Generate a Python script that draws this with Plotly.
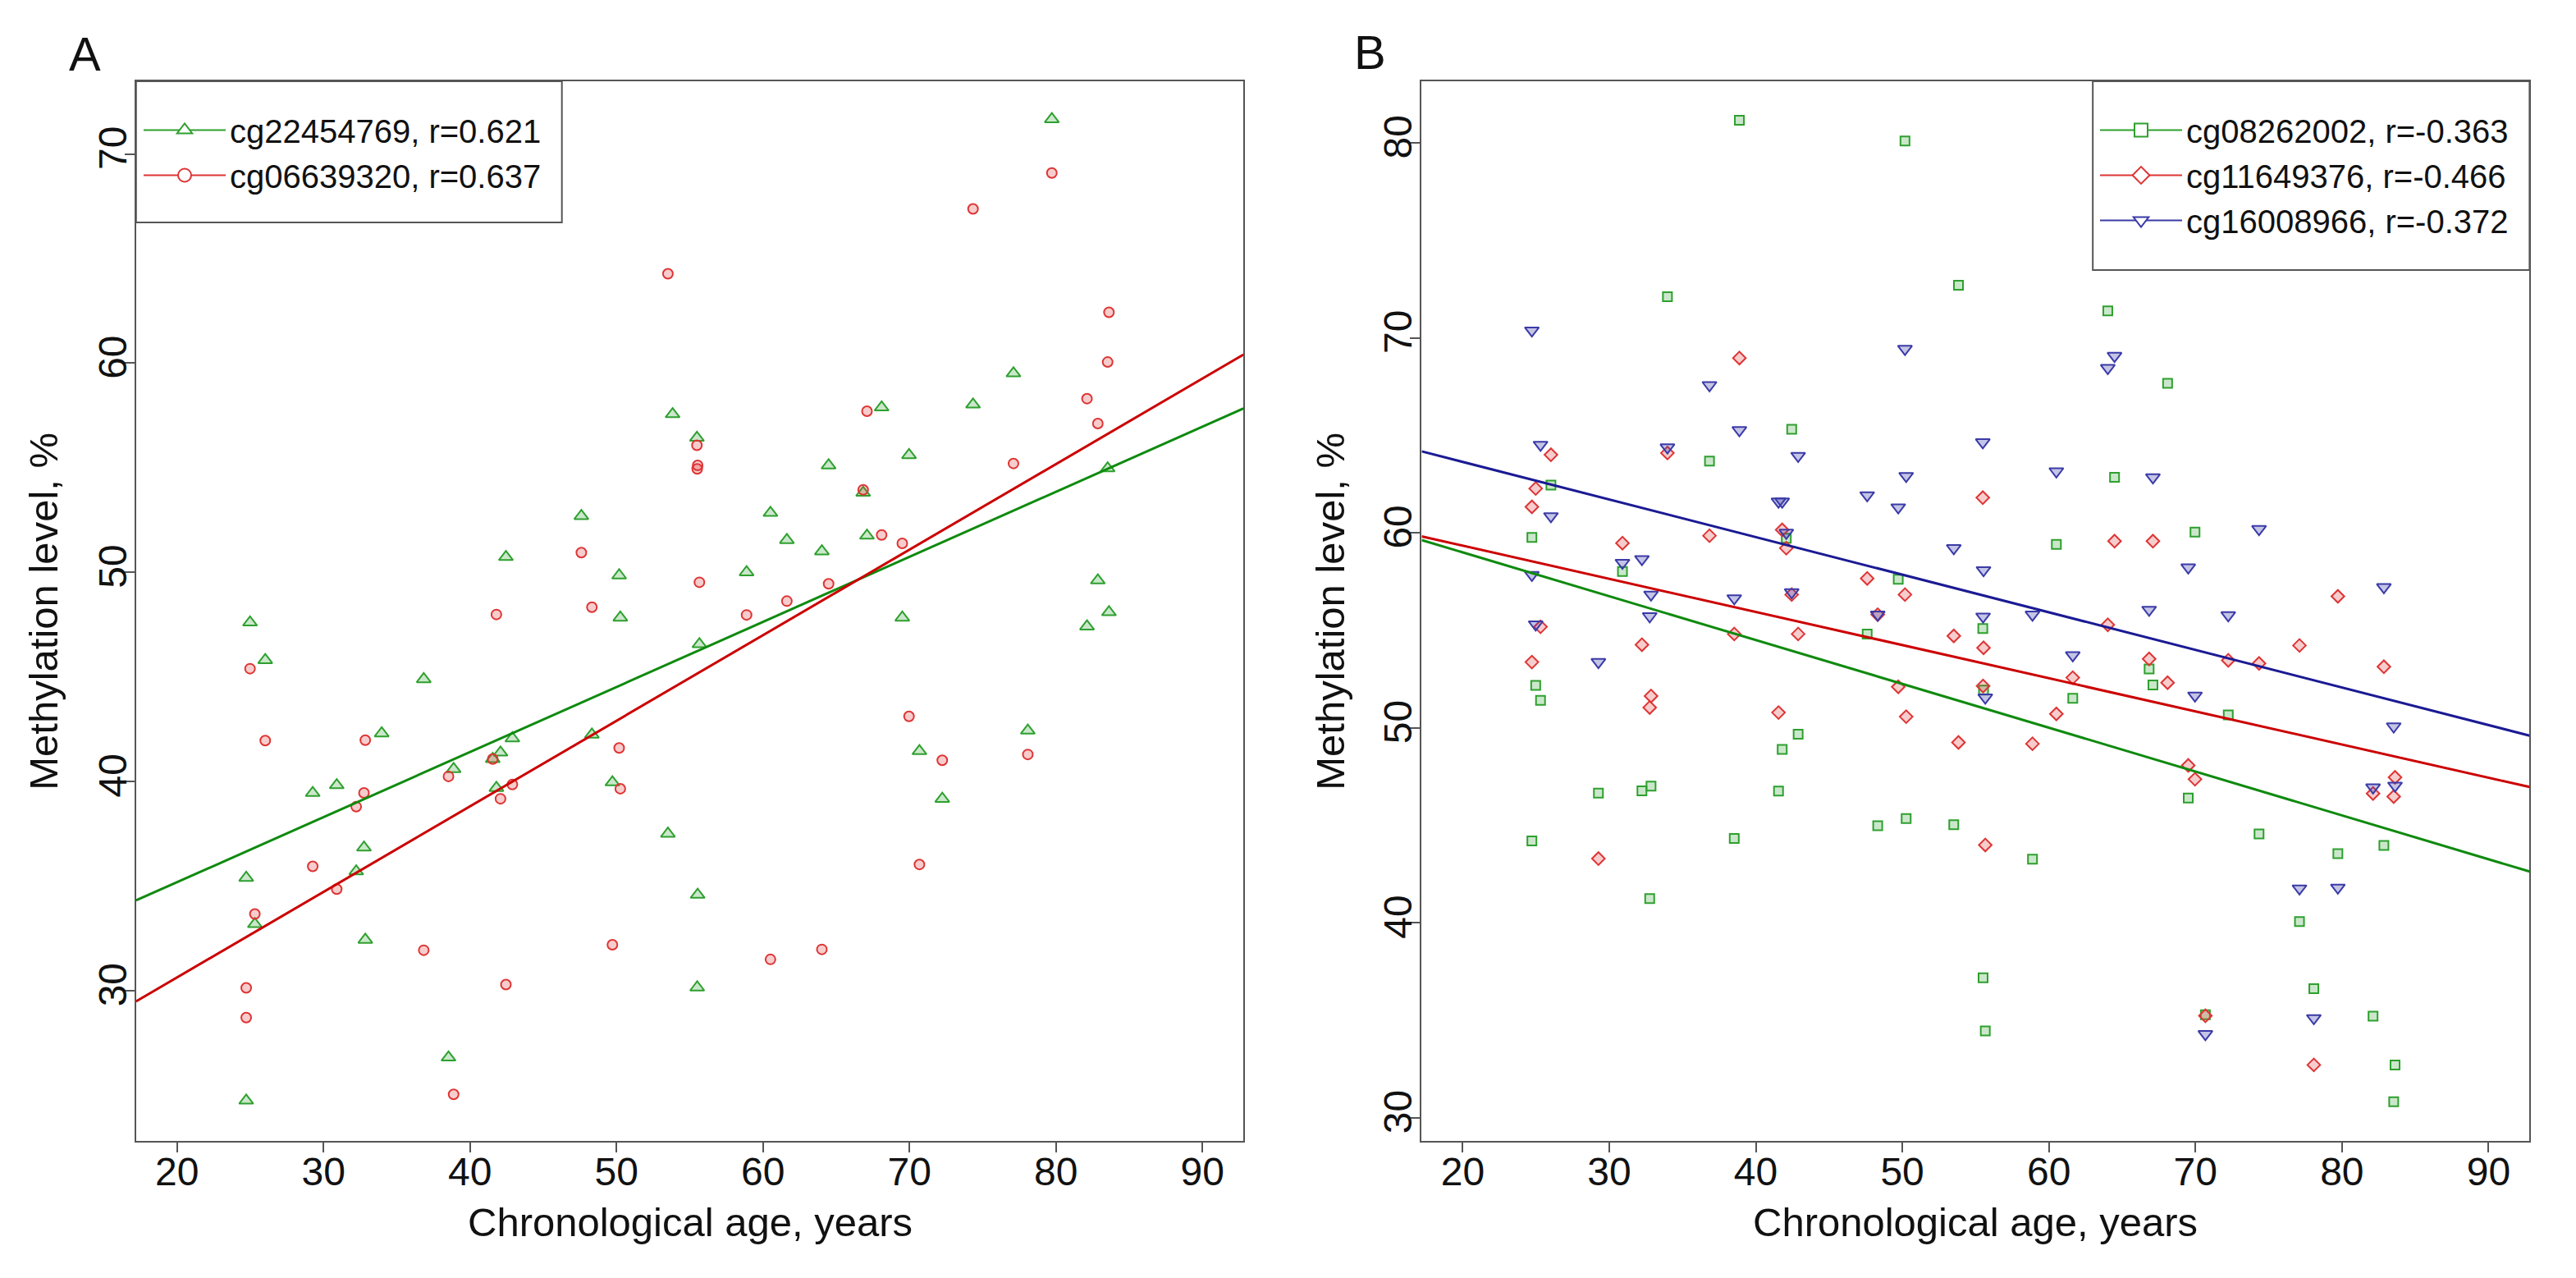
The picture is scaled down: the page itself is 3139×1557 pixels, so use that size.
import plotly.graph_objects as go

# Ages of the donors (years); every CpG site was measured on the same people.
ages = [24.72, 24.72, 24.98, 25.31, 26.02, 29.26, 30.90, 32.23, 32.76, 32.85,
        33.97, 36.84, 38.53, 38.88, 41.55, 41.80, 42.08, 42.45, 42.89, 47.60,
        48.32, 49.72, 50.18, 50.26, 53.51, 53.83, 55.49, 55.54, 55.51, 55.66,
        58.88, 60.51, 61.63, 64.02, 64.48, 66.84, 67.10, 68.10, 69.51, 69.97,
        70.68, 72.24, 74.34, 77.10, 78.08, 79.72, 82.12, 82.86, 83.53, 83.62]

# Panel A: methylation level (%) of sites that go up with age.
cg22454769 = [35.39, 24.74, 47.60, 33.18, 45.80, 39.45, 39.82, 35.70, 36.84, 32.43,
              42.30, 44.89, 26.80, 40.59, 41.07, 39.69, 41.38, 50.73, 42.06, 52.69,
              42.24, 39.96, 49.85, 47.83, 37.50, 57.56, 56.43, 34.58, 30.15, 46.56,
              50.00, 52.84, 51.54, 51.00, 55.11, 53.80, 51.75, 57.88, 47.83, 55.60,
              41.45, 39.17, 58.02, 59.51, 42.43, 71.66, 47.41, 49.61, 54.97, 48.09]
cg06639320 = [30.13, 28.71, 45.39, 33.66, 41.95, 35.94, 34.85, 38.79, 39.45, 41.97,
              None, 31.93, 40.24, 25.04, 41.07, 47.98, 39.17, 30.29, 39.85, 50.94,
              48.33, 32.19, 41.60, 39.65, 64.27, None, 56.07, 55.11, 54.94, 49.52,
              47.96, 31.49, 48.62, 31.97, 49.45, 53.94, 57.70, 51.78, 51.38, 43.11,
              36.03, 41.01, 67.37, 55.20, 41.29, 69.09, 58.30, 57.11, 60.05, 62.43]

# Panel B: methylation level (%) of sites that go down with age.
cg08262002 = [59.76, 44.20, 52.17, 51.41, 62.44, 46.65, 58.01, 46.77, 41.24, 47.01,
              72.11, 63.68, 44.32, 81.15, 46.75, 48.89, 59.72, 65.31, 49.67, 54.81,
              44.98, 57.61, 80.09, 45.34, 45.03, 72.69, 55.09, 51.93, 37.18, 34.45,
              43.26, 59.40, 51.51, 71.38, 62.84, 53.02, 52.19, 67.66, 46.40, 60.04,
              35.28, 50.66, 44.56, 40.06, 36.62, 43.55, 35.21, 43.97, 30.82, 32.71]
cg11649376 = [61.33, 53.37, 62.27, 55.18, 64.00, 43.29, 59.47, 54.26, 51.04, 51.63,
              64.09, 59.85, 54.81, 68.96, 50.78, 60.15, 59.21, 56.83, 54.81, 57.66,
              55.80, 52.10, 56.83, 50.57, 54.71, 49.25, 61.80, 54.10, 52.14, 43.99,
              49.18, 50.71, 52.57, 55.28, 59.57, 53.53, 59.57, 52.31, 48.07, 47.36,
              35.23, 53.46, 53.30, 54.22, 32.71, 56.74, 46.63, 53.13, 46.47, 47.46]
cg16008966 = [70.37, 57.84, 55.30, 64.51, 60.85, 53.37, 58.46, 58.65, 55.72, 56.83,
              64.38, 67.57, 56.64, 65.26, 61.60, 61.60, 60.00, 56.95, 63.94, 61.92,
              55.80, 61.30, 69.43, 62.91, 59.21, None, 64.64, 58.08, 55.70, 51.55,
              55.80, 63.15, 53.72, 68.45, 69.07, 56.05, 62.84, None, 58.22, 51.65,
              34.29, 55.77, 60.19, 41.76, 35.11, 41.80, 46.94, 57.21, 50.07, 47.03]

# Correlation with age, as printed in the legends.
r_a = [0.621, 0.637]
r_b = [-0.363, -0.466, -0.372]

# Regression lines as drawn in the picture (intercept at age 0, slope per year).
fit_a_intercepts = [28.96, 22.45]
fit_a_slopes = [0.3111, 0.409]
fit_b_intercepts = [63.49, 62.74, 67.49]
fit_b_slopes = [-0.2248, -0.170, -0.1928]

# Axis ranges.
age_range = [17.2, 92.8]
meth_range_a = [22.8, 73.47]
meth_range_b = [28.8, 83.15]

W, H = 3139, 1557
FONT = "Liberation Sans, Arial, sans-serif"


def px(x):
    return x / W


def py(y):
    return 1 - y / H


GREEN = ("rgb(46,160,46)", "rgba(46,160,46,0.25)", "#0f8a0f")
RED = ("rgb(222,52,52)", "rgba(222,52,52,0.25)", "#cc0000")
BLUE = ("rgb(58,58,168)", "rgba(58,58,168,0.3)", "#1a1a94")

panels = [
    ("x", "y", "legend",
     [("cg22454769", cg22454769, r_a[0], GREEN, "triangle-up", 15),
      ("cg06639320", cg06639320, r_a[1], RED, "circle", 12)],
     fit_a_intercepts, fit_a_slopes),
    ("x2", "y2", "legend2",
     [("cg08262002", cg08262002, r_b[0], GREEN, "square", 11),
      ("cg11649376", cg11649376, r_b[1], RED, "diamond", 12),
      ("cg16008966", cg16008966, r_b[2], BLUE, "triangle-down", 15)],
     fit_b_intercepts, fit_b_slopes),
]

fig = go.Figure()
for xa, ya, leg, sites, intercepts, slopes in panels:
    # Scatter points.
    for name, values, r, colors, symbol, size in sites:
        fig.add_trace(go.Scatter(
            x=ages, y=values, mode="markers", xaxis=xa, yaxis=ya,
            showlegend=False, hoverinfo="x+y",
            marker=dict(symbol=symbol, size=size, color=colors[1],
                        line=dict(color=colors[0], width=2))))
    # Regression lines across the whole plotting region.
    for (name, values, r, colors, symbol, size), a, b in zip(sites, intercepts, slopes):
        fig.add_trace(go.Scatter(
            x=age_range, y=[a + b * age for age in age_range], mode="lines",
            xaxis=xa, yaxis=ya, showlegend=False,
            line=dict(color=colors[2], width=3)))
    # Legend entries (line with symbol, like the R legend).
    for name, values, r, colors, symbol, size in sites:
        fig.add_trace(go.Scatter(
            x=[None], y=[None], mode="lines+markers", xaxis=xa, yaxis=ya,
            name=f"{name}, r={r}", legend=leg, legendgroup=name,
            line=dict(color=colors[0], width=2),
            marker=dict(symbol=symbol, size=16, color="white",
                        line=dict(color=colors[0], width=2))))

axis_style = dict(
    showgrid=False, zeroline=False, showline=True, mirror=True,
    linecolor="#555555", linewidth=2, ticks="outside", ticklen=12,
    tickwidth=2, tickcolor="#555555", dtick=10,
    tickfont=dict(family=FONT, size=48, color="#111111"),
)
legend_style = dict(
    xanchor="left", yanchor="top", y=py(126), bgcolor="rgba(0,0,0,0)",
    borderwidth=0, font=dict(family=FONT, size=40, color="#111111"),
    itemwidth=100, tracegroupgap=0, itemsizing="trace",
)

fig.update_layout(
    width=W, height=H, autosize=False,
    margin=dict(l=0, r=0, t=0, b=0),
    paper_bgcolor="white", plot_bgcolor="white",
    xaxis=dict(domain=[px(165.8), px(1515.2)], range=age_range, tick0=20,
               anchor="y", ticklabelstandoff=-18, **axis_style),
    yaxis=dict(domain=[py(1390.3), py(99.1)], range=meth_range_a, tick0=30,
               anchor="x", tickangle=-90, ticklabelstandoff=-21, **axis_style),
    xaxis2=dict(domain=[px(1732.4), px(3082.4)], range=age_range, tick0=20,
                anchor="y2", ticklabelstandoff=-18, **axis_style),
    yaxis2=dict(domain=[py(1390.3), py(99.1)], range=meth_range_b, tick0=30,
                anchor="x2", tickangle=-90, ticklabelstandoff=-21, **axis_style),
    legend=dict(x=px(170), **legend_style),
    legend2=dict(x=px(2554), **legend_style),
)

# Legend frames (white boxes tucked into the top corners).
for x0, x1, y1 in ((165.8, 684.7, 271), (2550.2, 3082.4, 329)):
    fig.add_shape(type="rect", xref="paper", yref="paper",
                  x0=px(x0), x1=px(x1), y0=py(y1), y1=py(99.1),
                  line=dict(color="#555555", width=2), fillcolor="white",
                  layer="above")

# Axis titles and panel letters.
title_font = dict(family=FONT, size=49, color="#111111")
for cx in (840.5, 2407.4):
    fig.add_annotation(text="Chronological age, years", xref="paper", yref="paper",
                       x=px(cx), y=py(1489), xanchor="center", yanchor="middle",
                       showarrow=False, font=title_font)
for cx in (53, 1621):
    fig.add_annotation(text="Methylation level, %", xref="paper", yref="paper",
                       x=px(cx), y=py(744.7), xanchor="center", yanchor="middle",
                       textangle=-90, showarrow=False, font=title_font)
for label, cx, cy in (("A", 103, 66), ("B", 1669, 63)):
    fig.add_annotation(text=label, xref="paper", yref="paper", x=px(cx), y=py(cy),
                       xanchor="center", yanchor="middle", showarrow=False,
                       font=dict(family=FONT, size=58, color="#111111"))

fig.write_html("out.html", config={"displayModeBar": False},
               post_script="document.body.style.margin='0';"
                           "document.body.style.overflow='hidden';")
